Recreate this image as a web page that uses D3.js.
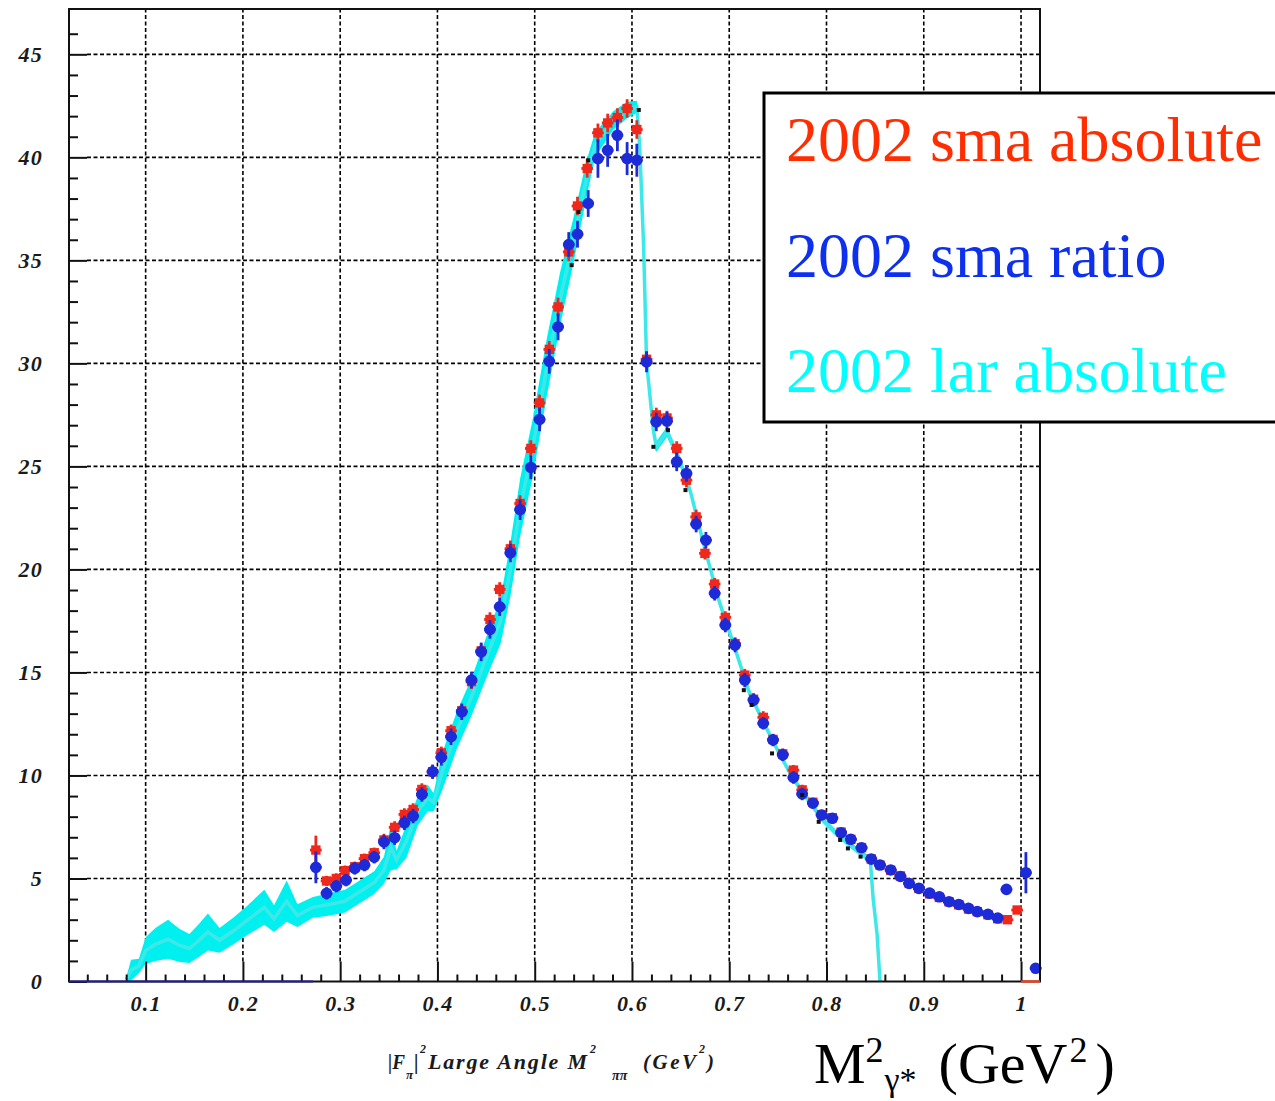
<!DOCTYPE html>
<html>
<head>
<meta charset="utf-8">
<script src="https://cdn.jsdelivr.net/npm/d3@7"></script>
<style>
  html, body { margin: 0; padding: 0; background: #fff; }
  svg { display: block; }
</style>
</head>
<body>
<svg id="chart" width="1275" height="1101"></svg>
<script>
// ---- tick values / labels ----
const xTickValues = [0.1, 0.2, 0.3, 0.4, 0.5, 0.6, 0.7, 0.8, 0.9, 1.0];
const xTickLabels = ["0.1", "0.2", "0.3", "0.4", "0.5", "0.6", "0.7", "0.8", "0.9", "1"];
const yTickValues = [0, 5, 10, 15, 20, 25, 30, 35, 40, 45];
const yTickLabels = ["0", "5", "10", "15", "20", "25", "30", "35", "40", "45"];

// ---- 2002 sma absolute (red) ----
const smaAbsX = [0.275, 0.286, 0.296, 0.305, 0.315, 0.325, 0.335, 0.345, 0.356, 0.366, 0.375, 0.384, 0.395, 0.404, 0.414, 0.425, 0.435, 0.445, 0.454, 0.464,
  0.475, 0.485, 0.496, 0.505, 0.515, 0.524, 0.535, 0.544, 0.554, 0.565, 0.575, 0.585, 0.595, 0.605, 0.615, 0.625, 0.636, 0.646, 0.656, 0.666,
  0.675, 0.685, 0.696, 0.706, 0.716, 0.725, 0.735, 0.745, 0.755, 0.766, 0.775, 0.786, 0.795, 0.806, 0.815, 0.825, 0.836, 0.846, 0.855, 0.866,
  0.876, 0.885, 0.895, 0.906, 0.916, 0.926, 0.936, 0.946, 0.955, 0.966, 0.976, 0.986, 0.996];
const smaAbsY = [6.38, 4.88, 5.0, 5.38, 5.57, 5.96, 6.25, 6.87, 7.48, 8.11, 8.35, 9.32, 10.18, 11.1, 12.17, 13.14, 14.55, 16.05, 17.57, 19.03,
  21.0, 23.2, 25.87, 28.08, 30.68, 32.74, 35.41, 37.64, 39.46, 41.19, 41.67, 41.93, 42.37, 41.35, 30.2, 27.5, 27.35, 25.87, 24.33, 22.55,
  20.78, 19.29, 17.67, 16.4, 14.87, 13.7, 12.82, 11.75, 11.05, 10.26, 9.3, 8.7, 8.1, 7.95, 7.25, 6.9, 6.5, 5.95, 5.65, 5.4,
  5.12, 4.76, 4.52, 4.25, 4.08, 3.87, 3.72, 3.52, 3.39, 3.24, 3.05, 3.0, 3.47];
const smaAbsErr = [0.7, 0.25, 0.25, 0.25, 0.25, 0.25, 0.25, 0.3, 0.3, 0.3, 0.3, 0.3, 0.3, 0.3, 0.3, 0.3, 0.35, 0.35, 0.35, 0.35,
  0.4, 0.4, 0.4, 0.4, 0.4, 0.45, 0.45, 0.45, 0.45, 0.45, 0.45, 0.45, 0.45, 0.45, 0.4, 0.35, 0.35, 0.35, 0.35, 0.35,
  0.3, 0.3, 0.3, 0.3, 0.3, 0.3, 0.3, 0.25, 0.25, 0.25, 0.25, 0.2, 0.2, 0.2, 0.2, 0.2, 0.2, 0.2, 0.15, 0.15,
  0.15, 0.15, 0.15, 0.15, 0.12, 0.12, 0.12, 0.12, 0.12, 0.12, 0.12, 0.12, 0.12];

// ---- 2002 sma ratio (blue) ----
const smaRatioX = [0.275, 0.286, 0.296, 0.306, 0.315, 0.325, 0.335, 0.345, 0.356, 0.366, 0.375, 0.384, 0.395, 0.404, 0.414, 0.425, 0.435, 0.445, 0.454, 0.464,
  0.475, 0.485, 0.496, 0.505, 0.515, 0.524, 0.535, 0.544, 0.555, 0.565, 0.575, 0.585, 0.595, 0.605, 0.615, 0.625, 0.636, 0.646, 0.656, 0.666,
  0.676, 0.685, 0.696, 0.706, 0.716, 0.725, 0.735, 0.745, 0.755, 0.766, 0.775, 0.786, 0.795, 0.806, 0.815, 0.825, 0.836, 0.846, 0.855, 0.866,
  0.876, 0.885, 0.895, 0.906, 0.916, 0.926, 0.936, 0.946, 0.955, 0.966, 0.976, 0.985, 1.005, 1.015];
const smaRatioY = [5.54, 4.28, 4.63, 4.92, 5.49, 5.65, 6.03, 6.77, 6.98, 7.7, 8.03, 9.08, 10.18, 10.88, 11.88, 13.09, 14.63, 16.0, 17.09, 18.19,
  20.8, 22.9, 24.95, 27.28, 30.1, 31.77, 35.77, 36.27, 37.76, 39.94, 40.34, 41.07, 39.94, 39.86, 30.07, 27.16, 27.2, 25.22, 24.66, 22.2,
  21.42, 18.84, 17.3, 16.33, 14.63, 13.66, 12.53, 11.72, 11.0, 9.9, 9.1, 8.65, 8.08, 7.92, 7.22, 6.9, 6.49, 5.94, 5.65, 5.41,
  5.1, 4.76, 4.52, 4.29, 4.11, 3.87, 3.74, 3.55, 3.39, 3.26, 3.08, 4.47, 5.28, 0.64];
const smaRatioErr = [0.77, 0.3, 0.3, 0.3, 0.3, 0.3, 0.3, 0.35, 0.35, 0.35, 0.35, 0.35, 0.35, 0.4, 0.4, 0.4, 0.4, 0.45, 0.45, 0.45,
  0.45, 0.5, 0.57, 0.57, 0.6, 0.65, 0.6, 0.65, 0.65, 0.93, 0.8, 0.77, 0.8, 0.8, 0.5, 0.45, 0.45, 0.45, 0.4, 0.4,
  0.4, 0.35, 0.35, 0.35, 0.35, 0.3, 0.3, 0.3, 0.3, 0.3, 0.3, 0.25, 0.25, 0.25, 0.2, 0.2, 0.2, 0.2, 0.15, 0.15,
  0.15, 0.15, 0.15, 0.15, 0.12, 0.12, 0.12, 0.12, 0.12, 0.12, 0.12, 0.12, 1.0, 0.1];

// ---- 2002 lar absolute (cyan band: value and error) ----
const larX = [0.080, 0.085, 0.093, 0.100, 0.110, 0.123, 0.135, 0.145, 0.155, 0.164, 0.176, 0.190, 0.204, 0.215, 0.222, 0.232, 0.245, 0.256, 0.272, 0.290,
  0.305, 0.320, 0.335, 0.345, 0.352, 0.358, 0.368, 0.380, 0.390, 0.396, 0.405, 0.420, 0.435, 0.450, 0.465, 0.475, 0.485, 0.498, 0.512, 0.526,
  0.540, 0.553, 0.562, 0.581, 0.595, 0.605, 0.608, 0.612, 0.615, 0.622, 0.625, 0.636, 0.649, 0.660, 0.675, 0.690, 0.705, 0.720, 0.735, 0.750,
  0.765, 0.780, 0.795, 0.810, 0.825, 0.845, 0.848, 0.852, 0.855];
const larY = [0.1, 0.55, 0.75, 1.5, 1.8, 2.05, 1.75, 1.6, 2.0, 2.4, 2.0, 2.45, 2.95, 3.35, 3.6, 3.05, 3.9, 3.2, 3.6, 3.75,
  3.9, 4.35, 4.8, 5.4, 6.5, 5.9, 6.8, 8.3, 8.9, 8.7, 10.2, 12.2, 13.8, 15.7, 17.5, 20.0, 23.0, 25.9, 29.7, 33.1,
  36.0, 38.9, 40.6, 41.8, 42.3, 42.45, 40.5, 35.65, 30.07, 26.76, 25.95, 26.68, 25.3, 23.8, 21.0, 18.4, 16.3, 14.1, 12.6, 11.2,
  9.9, 8.9, 7.9, 7.2, 6.6, 5.9, 4.0, 2.3, 0.0];
const larErr = [0.1, 0.5, 0.35, 0.65, 0.8, 0.95, 0.8, 0.7, 0.8, 0.9, 0.6, 0.65, 0.7, 0.8, 0.85, 0.65, 1.0, 0.55, 0.5, 0.55,
  0.55, 0.55, 0.55, 0.65, 1.1, 0.45, 0.8, 0.7, 0.65, 0.45, 0.9, 0.9, 0.9, 1.0, 1.1, 1.3, 1.4, 1.4, 1.4, 1.3,
  1.1, 0.9, 0.6, 0.45, 0.4, 0.3, 0.3, 0.3, 0.3, 0.25, 0.25, 0.25, 0.25, 0.2, 0.2, 0.2, 0.2, 0.2, 0.15, 0.15,
  0.15, 0.15, 0.15, 0.15, 0.15, 0.15, 0.1, 0.1, 0.0];

// ---- small black markers peeking out behind the coloured points ----
const blackX = [0.538, 0.545, 0.555, 0.607, 0.622, 0.637, 0.655, 0.715, 0.723, 0.744, 0.775, 0.792, 0.814, 0.822, 0.835];
const blackY = [34.77, 37.35, 39.86, 42.3, 25.95, 26.76, 23.85, 14.14, 13.42, 11.07, 9.05, 7.75, 6.87, 6.46, 6.06];

// ---- legend entries ----
const legendLabels = ["2002 sma absolute", "2002 sma ratio", "2002 lar absolute"];
const legendColors = ["#ff2d00", "#0c2ff0", "#00ffff"];

// ---- layout ----
const svg = d3.select("#chart");
const pLeft = 69, pRight = 1040, pTop = 9, pBottom = 981.5;
const x = d3.scaleLinear().domain([0.0212, 1.0195]).range([pLeft, pRight]);
const y = d3.scaleLinear().domain([0, 47.2]).range([pBottom, pTop]);

const redCol = "#f0281c", blueCol = "#1c2ad8", cyanCol = "#00f0f0";
const serif = "'Liberation Serif', 'DejaVu Serif', serif";

svg.append("rect").attr("width", 1275).attr("height", 1101).attr("fill", "#fff");

// grid
const grid = svg.append("g").attr("stroke", "#000").attr("stroke-width", 1.6).attr("stroke-dasharray", "4,2.5");
grid.selectAll("line.gx").data(xTickValues).join("line")
  .attr("class", "gx")
  .attr("x1", d => x(d)).attr("x2", d => x(d)).attr("y1", pBottom - 20).attr("y2", pTop);
grid.selectAll("line.gy").data(yTickValues.filter(v => v > 0)).join("line")
  .attr("class", "gy")
  .attr("x1", pLeft + 18).attr("x2", pRight).attr("y1", d => y(d)).attr("y2", d => y(d));

// lar absolute band
const lar = larX.map((v, i) => ({ x: v, y: larY[i], e: larErr[i] }));
svg.append("path").datum(lar)
  .attr("fill", cyanCol)
  .attr("d", d3.area().x(d => x(d.x)).y0(d => y(Math.max(0, d.y - d.e))).y1(d => y(d.y + d.e)));
svg.append("path").datum(lar)
  .attr("fill", "none").attr("stroke", "#3fe8e8").attr("stroke-width", 3.5)
  .attr("d", d3.line().x(d => x(d.x)).y(d => y(d.y)));

// points with error bars
function drawSeries(xs, ys, es, color, symbolType, size) {
  const data = xs.map((v, i) => ({ x: v, y: ys[i], e: es[i] }));
  const g = svg.append("g");
  g.selectAll("line.ev").data(data).join("line")
    .attr("class", "ev")
    .attr("x1", d => x(d.x)).attr("x2", d => x(d.x))
    .attr("y1", d => y(d.y - d.e)).attr("y2", d => y(d.y + d.e))
    .attr("stroke", color).attr("stroke-width", 2.8);
  g.selectAll("line.eh").data(data).join("line")
    .attr("class", "eh")
    .attr("x1", d => x(d.x - 0.006)).attr("x2", d => x(d.x + 0.006))
    .attr("y1", d => y(d.y)).attr("y2", d => y(d.y))
    .attr("stroke", color).attr("stroke-width", 2.8);
  g.selectAll("path").data(data).join("path")
    .attr("transform", d => `translate(${x(d.x)},${y(d.y)})`)
    .attr("d", d3.symbol().type(symbolType).size(size))
    .attr("fill", color);
}
drawSeries(smaAbsX, smaAbsY, smaAbsErr, redCol, d3.symbolSquare, 88);
drawSeries(smaRatioX, smaRatioY, smaRatioErr, blueCol, d3.symbolCircle, 105);

svg.append("g").selectAll("rect").data(blackX.map((v, i) => ({ x: v, y: blackY[i] }))).join("rect")
  .attr("x", d => x(d.x) - 2).attr("y", d => y(d.y) - 2).attr("width", 4).attr("height", 4)
  .attr("fill", "#111");

// axes: major and minor ticks pointing inward
const xAxis = svg.append("g").attr("transform", `translate(0,${pBottom})`)
  .call(d3.axisBottom(x).tickValues(xTickValues).tickSize(-20).tickPadding(14)
    .tickFormat((d, i) => xTickLabels[i]));
const xMinor = d3.range(0.04, 1.01, 0.02).filter(v => xTickValues.every(t => Math.abs(t - v) > 1e-6));
svg.append("g").attr("transform", `translate(0,${pBottom})`)
  .call(d3.axisBottom(x).tickValues(xMinor).tickSize(-7).tickFormat(""))
  .call(g => g.select(".domain").remove());

const yAxis = svg.append("g").attr("transform", `translate(${pLeft},0)`)
  .call(d3.axisLeft(y).tickValues(yTickValues).tickSize(-18).tickPadding(26)
    .tickFormat((d, i) => yTickLabels[i]));
const yMinor = d3.range(1, 47, 1).filter(v => v % 5 !== 0);
svg.append("g").attr("transform", `translate(${pLeft},0)`)
  .call(d3.axisLeft(y).tickValues(yMinor).tickSize(-9).tickFormat(""))
  .call(g => g.select(".domain").remove());

[xAxis, yAxis].forEach(g => {
  g.select(".domain").remove();
  g.selectAll(".tick text").attr("font-family", serif).attr("font-style", "italic")
    .attr("font-weight", "bold").attr("font-size", 22).attr("letter-spacing", 1.2)
    .attr("fill", "#1a1a1a");
});
svg.selectAll(".tick line").attr("stroke", "#111").attr("stroke-width", 2);

// frame
svg.append("rect").attr("x", pLeft).attr("y", pTop).attr("width", pRight - pLeft).attr("height", pBottom - pTop)
  .attr("fill", "none").attr("stroke", "#111").attr("stroke-width", 2);
// zero-level segments of the histograms on the bottom axis
svg.append("line").attr("x1", pLeft).attr("x2", x(0.272)).attr("y1", pBottom).attr("y2", pBottom)
  .attr("stroke", "#1c1c9c").attr("stroke-width", 2.2);
svg.append("line").attr("x1", x(1.0)).attr("x2", pRight).attr("y1", pBottom).attr("y2", pBottom)
  .attr("stroke", "#ff3a10").attr("stroke-width", 2.2);

// small axis caption
const cap = svg.append("g").attr("font-family", serif).attr("font-style", "italic")
  .attr("font-weight", "bold").attr("fill", "#1a1a1a");
cap.append("text").attr("x", 388).attr("y", 1069).attr("font-size", 21)
  .attr("textLength", 17).attr("lengthAdjust", "spacingAndGlyphs").text("|F");
cap.append("text").attr("x", 406).attr("y", 1079).attr("font-size", 13).text("π");
cap.append("text").attr("x", 414).attr("y", 1069).attr("font-size", 21).text("|");
cap.append("text").attr("x", 420).attr("y", 1053).attr("font-size", 12).text("2");
cap.append("text").attr("x", 428).attr("y", 1069).attr("font-size", 22)
  .attr("textLength", 159).attr("lengthAdjust", "spacing").text("Large Angle M");
cap.append("text").attr("x", 590).attr("y", 1053).attr("font-size", 12).text("2");
cap.append("text").attr("x", 612).attr("y", 1080).attr("font-size", 14).text("ππ");
cap.append("text").attr("x", 643).attr("y", 1069).attr("font-size", 21)
  .attr("textLength", 53).attr("lengthAdjust", "spacing").text("(GeV");
cap.append("text").attr("x", 699).attr("y", 1053).attr("font-size", 12).text("2");
cap.append("text").attr("x", 707).attr("y", 1069).attr("font-size", 21).text(")");

// large axis title, one text with raised / lowered parts
const big = svg.append("text").attr("x", 814).attr("y", 1083)
  .attr("font-family", serif).attr("font-size", 58).attr("fill", "#000");
big.append("tspan").text("M");
big.append("tspan").attr("font-size", 36).attr("dy", -21).text("2");
big.append("tspan").attr("font-size", 34).attr("dy", 29).attr("dx", 1).text("γ*");
big.append("tspan").attr("font-size", 58).attr("dy", -8).attr("dx", 22).text("(GeV");
big.append("tspan").attr("font-size", 36).attr("dy", -21).attr("dx", 2).text("2");
big.append("tspan").attr("font-size", 58).attr("dy", 21).attr("dx", 8).text(")");

// legend
const leg = svg.append("g");
leg.append("rect").attr("x", 764).attr("y", 93).attr("width", 560).attr("height", 329)
  .attr("fill", "#fff").attr("stroke", "#000").attr("stroke-width", 3);
leg.selectAll("text").data(legendLabels).join("text")
  .attr("x", 786).attr("y", (d, i) => 161 + i * 115.5)
  .attr("font-family", serif)
  .attr("font-size", 64)
  .attr("fill", (d, i) => legendColors[i])
  .text(d => d);
</script>
</body>
</html>
